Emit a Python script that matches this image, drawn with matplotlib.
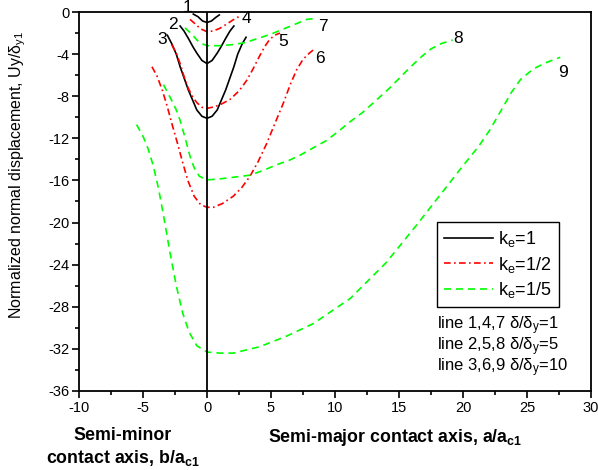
import matplotlib
matplotlib.use("Agg")
import matplotlib.pyplot as plt
from matplotlib.lines import Line2D
from matplotlib.ticker import MultipleLocator

plt.rcParams['font.family'] = ['Liberation Sans', 'DejaVu Sans']
plt.rcParams['mathtext.fontset'] = 'custom'
plt.rcParams['mathtext.rm'] = 'Liberation Sans'
plt.rcParams['mathtext.it'] = 'Liberation Sans:italic'
plt.rcParams['mathtext.bf'] = 'Liberation Sans:bold'
plt.rcParams['axes.unicode_minus'] = False

# ---- data: ke = 1 (black solid) ----
x1 = [-1.07, -0.7, -0.35, 0, 0.35, 0.7, 0.96]
y1 = [-0.2, -0.45, -0.85, -1.0, -0.85, -0.5, -0.28]
x2 = [-2.1, -1.8, -1.46, -1.1, -0.8, -0.4, 0, 0.4, 0.8, 1.1, 1.46, 1.8, 2.1]
y2 = [-1.33, -1.8, -2.5, -3.3, -3.9, -4.6, -4.9, -4.6, -3.9, -3.3, -2.5, -1.8, -1.33]
x3 = [-3.1, -2.76, -2.4, -2.1, -1.46, -0.8, -0.4, 0, 0.4, 0.8, 1.46, 2.1, 2.4, 2.76, 3.05]
y3 = [-2.2, -3.0, -4.0, -5.2, -7.4, -9.3, -9.9, -10.1, -9.9, -9.3, -7.4, -5.2, -4.0, -3.0, -2.4]

# ---- data: ke = 1/2 (red dash-dot) ----
x4 = [-1.33, -0.9, -0.5, 0, 0.5, 1.0, 1.6, 2.1, 2.58]
y4 = [-0.7, -1.15, -1.6, -1.87, -1.8, -1.55, -1.1, -0.7, -0.38]
x5 = [-2.76, -2.4, -2.1, -1.8, -1.46, -1.1, -0.8, -0.4, 0, 0.6, 1.2, 1.8, 2.5, 3.1, 3.6,
      4.1, 4.5, 4.9, 5.3, 5.7]
y5 = [-3.1, -3.9, -4.9, -6.1, -7.25, -8.1, -8.6, -9.05, -9.15, -9.0, -8.7, -8.3, -7.5, -6.5,
      -5.4, -4.2, -3.3, -2.6, -2.2, -2.0]
x6 = [-4.3, -3.9, -3.5, -3.1, -2.7, -2.3, -1.9, -1.5, -1.0, -0.5, 0, 0.5, 1.2, 2.05, 2.7, 3.36,
      4.0, 4.66, 5.3, 5.96, 6.5, 7.0, 7.5, 8.0, 8.36]
y6 = [-5.2, -6.1, -7.4, -9.0, -10.8, -12.5, -14.3, -16.0, -17.5, -18.3, -18.55, -18.55, -18.2,
      -17.5, -16.7, -15.6, -14.2, -12.5, -10.6, -8.67, -6.9, -5.5, -4.5, -3.9, -3.55]

# ---- data: ke = 1/5 (green dashed) ----
x7 = [-1.72, -1.2, -0.6, 0, 1, 2, 3, 4, 5, 6, 7, 7.8, 8.6]
y7 = [-1.5, -2.1, -2.9, -3.2, -3.2, -3.1, -2.9, -2.5, -2.1, -1.6, -1.1, -0.7, -0.6]
x8 = [-3.4, -3.1, -2.76, -2.4, -2.1, -1.7, -1.33, -1.0, -0.6, 0, 1, 2.05, 3.36, 4.5, 5.45,
      6.4, 7.27, 8.3, 9.35, 10.3, 11.2, 12.2, 13.2, 14.2, 15.1, 16.0, 16.8, 17.5, 18.3, 19.2]
y8 = [-6.9, -7.6, -8.4, -9.3, -10.3, -12.0, -13.7, -14.8, -15.6, -15.95, -15.85, -15.7, -15.5,
      -15.0, -14.5, -14.1, -13.6, -12.9, -12.2, -11.3, -10.4, -9.5, -8.4, -7.3, -6.2, -5.1,
      -4.2, -3.5, -3.0, -2.66]
x9 = [-5.5, -5.0, -4.6, -4.2, -3.8, -3.4, -2.9, -2.4, -1.9, -1.4, -0.8, 0, 1, 2.05, 4.1, 6.2,
      8.3, 11.2, 14.0, 16.4, 18.2, 20.0, 21.2, 22.1, 23.0, 23.8, 24.5, 25.5, 26.5, 27.6]
y9 = [-10.7, -11.8, -13.0, -14.6, -16.7, -19.3, -22.8, -26.0, -28.6, -30.4, -31.7, -32.3,
      -32.4, -32.4, -31.8, -30.8, -29.6, -27.2, -23.8, -20.2, -17.4, -14.6, -12.8, -11.2,
      -9.3, -7.6, -6.4, -5.4, -4.8, -4.3]

curve_labels = ['1', '2', '3', '4', '5', '6', '7', '8', '9']
label_x = [-1.5, -2.68, -3.54, 3.05, 5.96, 8.83, 9.04, 19.6, 27.8]
label_y = [0.38, -1.14, -2.6, -0.66, -2.82, -4.46, -1.33, -2.56, -5.7]

legend_labels = [r'k$_{\mathrm{e}}$=1', r'k$_{\mathrm{e}}$=1/2', r'k$_{\mathrm{e}}$=1/5']
note_lines = [r'line 1,4,7 δ/δ$_{\mathrm{y}}$=1',
              r'line 2,5,8 δ/δ$_{\mathrm{y}}$=5',
              r'line 3,6,9 δ/δ$_{\mathrm{y}}$=10']

W, H = 598, 470
fig = plt.figure(figsize=(W / 100, H / 100), dpi=100)
ax = fig.add_axes([79 / W, 1 - 391 / H, 512 / W, 379 / H])

black_kw = dict(color='black', lw=1.2, ls='-')
red_kw = dict(color='#ff0000', lw=1.2, ls=(0, (4, 2, 1, 2)))
green_kw = dict(color='#00ff00', lw=1.2, ls=(0, (4.2, 3)))

for xs, ys in [(x1, y1), (x2, y2), (x3, y3)]:
    ax.plot(xs, ys, **black_kw)
for xs, ys in [(x4, y4), (x5, y5), (x6, y6)]:
    ax.plot(xs, ys, **red_kw)
for xs, ys in [(x7, y7), (x8, y8), (x9, y9)]:
    ax.plot(xs, ys, **green_kw)

ax.axvline(0, color='black', lw=1.3)

for t, lx, ly in zip(curve_labels, label_x, label_y):
    ax.text(lx, ly, t, fontsize=12.5, ha='center', va='center', clip_on=False)

ax.set_xlim(-10, 30)
ax.set_ylim(-36, 0)
ax.xaxis.set_major_locator(MultipleLocator(5))
ax.xaxis.set_minor_locator(MultipleLocator(2.5))
ax.yaxis.set_major_locator(MultipleLocator(4))
ax.yaxis.set_minor_locator(MultipleLocator(2))
ax.tick_params(which='major', direction='out', length=5, width=1.2, labelsize=10.5, pad=2)
ax.tick_params(which='minor', direction='out', length=3, width=1.2)
for s in ax.spines.values():
    s.set_linewidth(1.3)

handles = [Line2D([], [], **black_kw), Line2D([], [], **red_kw), Line2D([], [], **green_kw)]
leg = ax.legend(handles, legend_labels, loc='upper left',
                bbox_to_anchor=((437 - 79) / 512, (391 - 222) / 379),
                borderaxespad=0, fancybox=False, framealpha=1, edgecolor='black',
                fontsize=13, handlelength=2.7, handletextpad=0.3, labelspacing=0.3,
                borderpad=0.4)
leg.get_frame().set_linewidth(1.0)

for i, line in enumerate(note_lines):
    fig.text(437 / W, 1 - (326 + 21 * i) / H, line, fontsize=12, ha='left', va='center')

fig.text(18 / W, 1 - 175 / H, r'Normalized normal displacement, Uy/δ$_{\mathrm{y1}}$',
         rotation=90, fontsize=11.5, ha='center', va='center')
fig.text(123 / W, 1 - 435 / H, 'Semi-minor', fontsize=12.8, fontweight='bold',
         ha='center', va='center')
fig.text(123 / W, 1 - 458 / H, r'contact axis, b/a$_{\mathbf{c1}}$', fontsize=12.8,
         fontweight='bold', ha='center', va='center')
fig.text(395 / W, 1 - 437 / H, r'Semi-major contact axis, a/a$_{\mathbf{c1}}$', fontsize=12.8,
         fontweight='bold', ha='center', va='center')

fig.savefig('out.png', dpi=100)
